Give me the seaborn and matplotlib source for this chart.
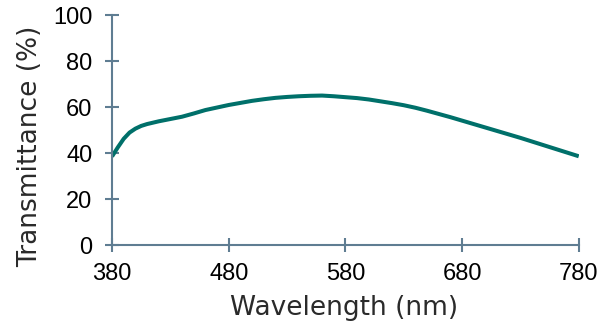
import matplotlib
matplotlib.use("Agg")
import matplotlib.pyplot as plt
import seaborn as sns
import pandas as pd

wavelength = [380, 385, 390, 395, 400, 405, 410, 420, 430, 440, 450, 460, 470, 480, 490, 500, 510, 520, 530, 540,
              550, 560, 570, 580, 590, 600, 610, 620, 630, 640, 650, 660, 670, 680, 690, 700, 710, 720, 730, 740,
              750, 760, 770, 780]
transmittance = [38.5, 42.5, 46.2, 48.9, 50.6, 51.8, 52.6, 53.8, 54.8, 55.8, 57.2, 58.7, 59.8, 60.9, 61.8, 62.7,
                 63.4, 64.0, 64.4, 64.7, 64.9, 65.0, 64.7, 64.3, 63.9, 63.3, 62.5, 61.7, 60.8, 59.7, 58.4, 57.0,
                 55.6, 54.1, 52.6, 51.1, 49.6, 48.1, 46.6, 45.0, 43.4, 41.8, 40.2, 38.6]
xticks = [380, 480, 580, 680, 780]
yticks = [0, 20, 40, 60, 80, 100]

sns.set_style("white")
df = pd.DataFrame({"wl": wavelength, "t": transmittance})

fig = plt.figure(figsize=(6.01, 3.28), dpi=100)
ax = fig.add_axes([0.1864, 0.253, 0.7766, 0.701])
sns.lineplot(data=df, x="wl", y="t", ax=ax, color="#00706a", linewidth=2.9)
line = ax.get_lines()[0]
line.set_solid_capstyle("butt")
line.set_solid_joinstyle("round")
axc = "#5f7d92"
ax.set_xlim(380, 780)
ax.set_ylim(0, 100)
ax.set_xticks(xticks)
ax.set_yticks(yticks)
for s in ["top", "right"]:
    ax.spines[s].set_visible(False)
for s in ["left", "bottom"]:
    ax.spines[s].set_color(axc)
    ax.spines[s].set_linewidth(1.5)
ax.tick_params(axis="both", which="major", bottom=True, left=True, direction="inout", length=10, width=1.5,
               color=axc, labelsize=17, labelcolor="black", labelfontfamily="Liberation Sans")
ax.tick_params(axis="x", pad=8)
ax.tick_params(axis="y", pad=9)
ax.set_xlabel("Wavelength (nm)", fontsize=19, family=["DejaVu Sans"], color="#2a2a2a")
ax.set_ylabel("Transmittance (%)", fontsize=19, family=["DejaVu Sans"], color="#2a2a2a")
ax.xaxis.set_label_coords(0.497, -0.274)
ax.yaxis.set_label_coords(-0.176, 0.43)
ax.xaxis.label.set_va("center")
ax.yaxis.label.set_va("center")
ax.set_facecolor("white")
fig.savefig("out.png", dpi=100, facecolor="white")
